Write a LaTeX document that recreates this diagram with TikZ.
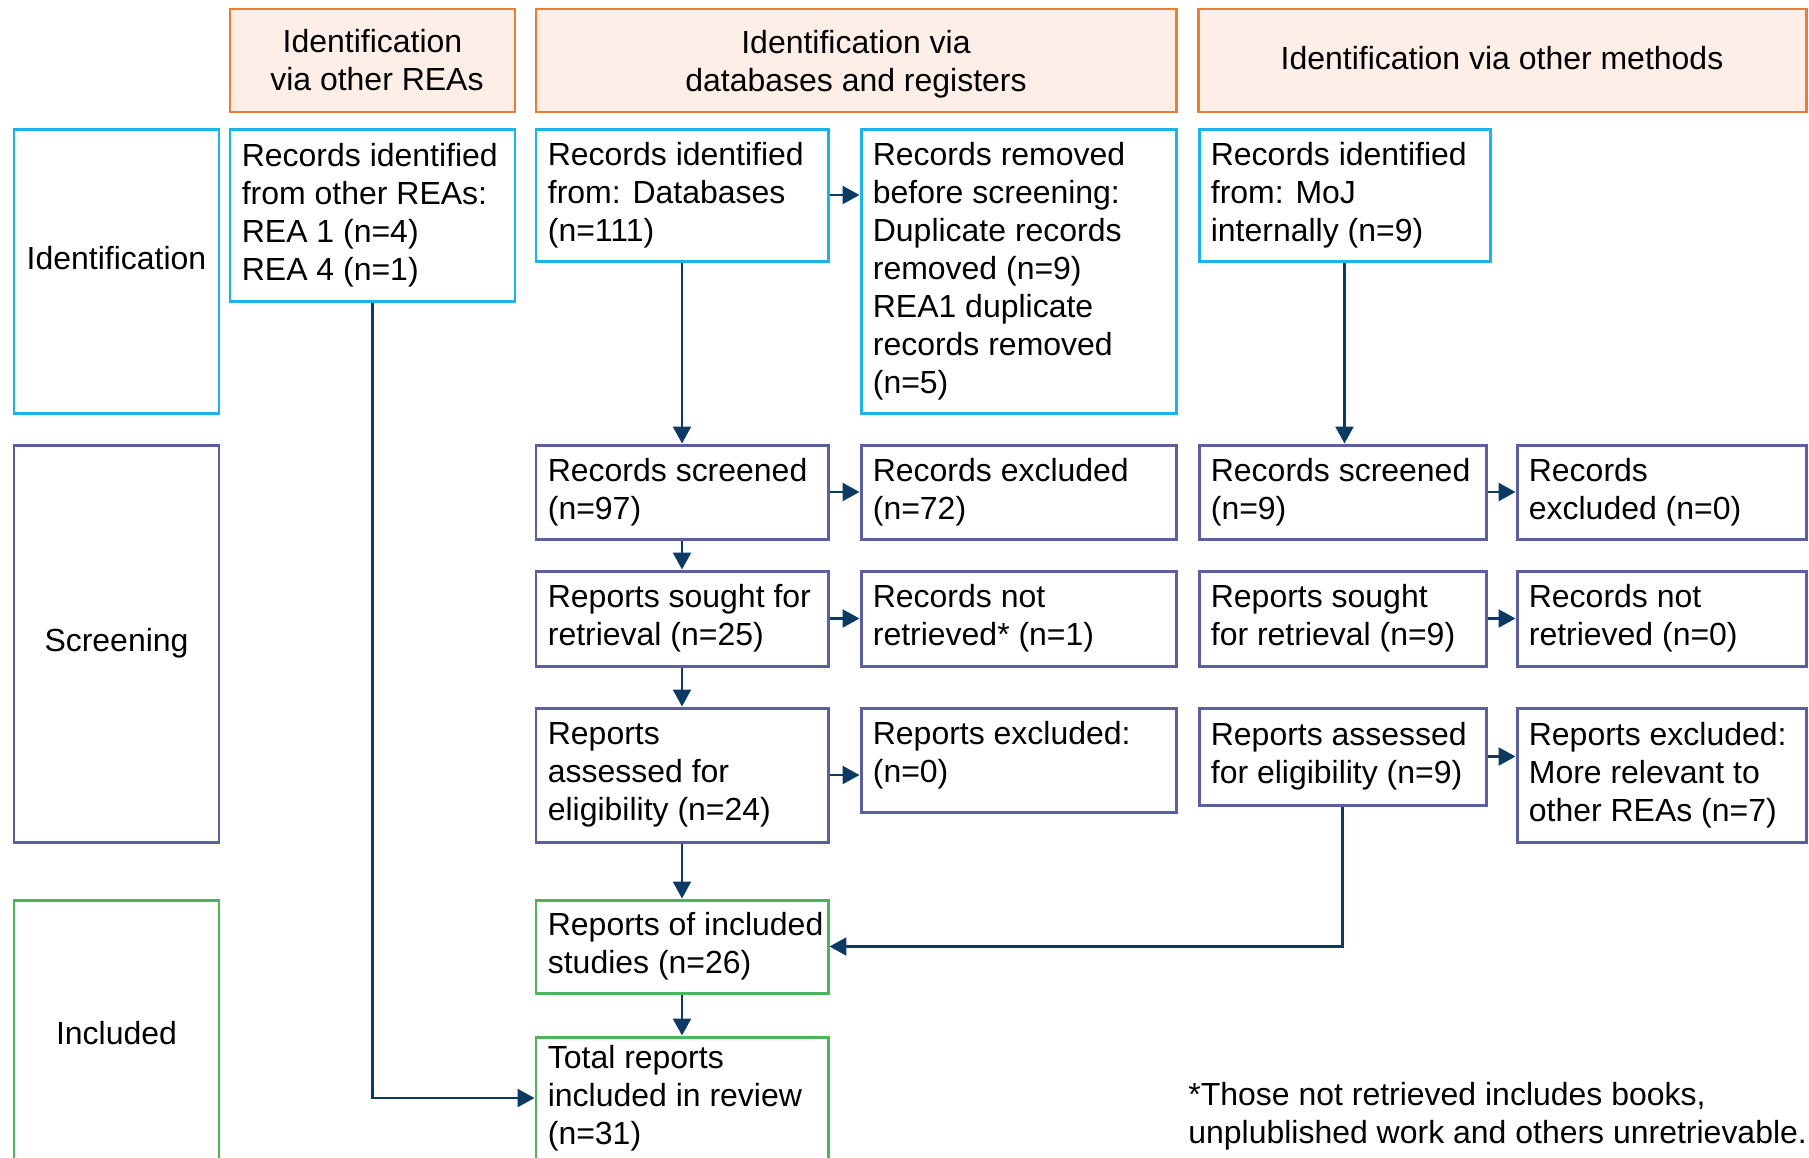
\documentclass[tikz,border=0pt]{standalone}
\usepackage{fontspec}
\setmainfont{Liberation Sans}
\usetikzlibrary{arrows.meta, fit}

\definecolor{hdrorange}{HTML}{ED7D31}
\definecolor{hdrfill}{HTML}{FDEFE7}
\definecolor{idblue}{HTML}{1AB4E8}
\definecolor{scrpurple}{HTML}{5B5E9F}
\definecolor{incgreen}{HTML}{4BB55A}
\definecolor{arrownavy}{HTML}{0B3A63}

\begin{document}
\begin{tikzpicture}[x=0.02cm, y=-0.02cm,
    every node/.style={font=\fontsize{18.2}{21.6}\selectfont},
    header/.style={draw=hdrorange, fill=hdrfill, line width=1.7pt, inner sep=0pt},
    flowbox/.style={draw=#1, line width=1.7pt, inner sep=0pt},
    midtext/.style={align=center, inner sep=0pt},
    boxtext/.style={anchor=west, align=left, inner sep=0pt, xshift=0.26cm},
    link/.style={draw=arrownavy, line width=1.4pt, -{Triangle[length=0.34cm, width=0.36cm]}}]
				\useasboundingbox (0,0) rectangle (1809,1157);

				% Column headers
				\node[header, fit={(230,9) (515,112)}] (hrea) {};
				\node[midtext] (hreatxt) at (hrea) {Identification\\ \ via other REAs};
				\node[header, fit={(536,9) (1176,112)}] (hdb) {};
				\node[midtext, yshift=-0.07cm] (hdbtxt) at (hdb) {Identification via\\databases and registers};
				\node[header, fit={(1198,9) (1806,112)}] (hother) {};
				\node[midtext, yshift=0.05cm] (hothertxt) at (hother) {Identification via other methods};

				% Stages on the left
				\node[flowbox=idblue, fit={(14,129) (219,413)}] (sid) {};
				\node[midtext, yshift=0.26cm] (sidtxt) at (sid) {Identification};
				\node[flowbox=scrpurple, fit={(14,445) (219,842)}] (sscr) {};
				\node[midtext] (sscrtxt) at (sscr) {Screening};
				\node[flowbox=incgreen, fit={(14,900) (219,1166)}] (sinc) {};
				\node[midtext] (sinctxt) at (sinc) {Included};

				% Identification row
				\node[flowbox=idblue, fit={(230,129) (515,301)}] (rea) {};
				\node[boxtext] (reatxt) at (rea.west) {Records identified\\from other REAs:\\REA 1 (n=4)\\REA 4 (n=1)};
				\node[flowbox=idblue, fit={(536,129) (828,261)}] (db) {};
				\node[boxtext] (dbtxt) at (db.west) {Records identified\\from: Databases\\(n=111)};
				\node[flowbox=idblue, fit={(861,129) (1176,413)}] (removed) {};
				\node[boxtext] (removedtxt) at (removed.west) {Records removed\\before screening:\\Duplicate records\\removed (n=9)\\REA1 duplicate\\records removed\\(n=5)};
				\node[flowbox=idblue, fit={(1199,129) (1490,261)}] (moj) {};
				\node[boxtext] (mojtxt) at (moj.west) {Records identified\\from: MoJ\\internally (n=9)};

				% Screening, databases
				\node[flowbox=scrpurple, fit={(536,445) (828,539)}] (scr1) {};
				\node[boxtext] (scr1txt) at (scr1.west) {Records screened\\(n=97)};
				\node[flowbox=scrpurple, fit={(861,445) (1176,539)}] (exc1) {};
				\node[boxtext] (exc1txt) at (exc1.west) {Records excluded\\(n=72)};
				\node[flowbox=scrpurple, fit={(536,571) (828,666)}] (sought1) {};
				\node[boxtext] (sought1txt) at (sought1.west) {Reports sought for\\retrieval (n=25)};
				\node[flowbox=scrpurple, fit={(861,571) (1176,666)}] (nr1) {};
				\node[boxtext] (nr1txt) at (nr1.west) {Records not\\retrieved* (n=1)};
				\node[flowbox=scrpurple, fit={(536,708) (828,842)}] (ass1) {};
				\node[boxtext] (ass1txt) at (ass1.west) {Reports\\assessed for\\eligibility (n=24)};
				\node[flowbox=scrpurple, fit={(861,708) (1176,812)}] (rex1) {};
				\node[boxtext, yshift=0.1cm] (rex1txt) at (rex1.west) {Reports excluded:\\(n=0)};

				% Screening, other methods
				\node[flowbox=scrpurple, fit={(1199,445) (1486,539)}] (scr2) {};
				\node[boxtext] (scr2txt) at (scr2.west) {Records screened\\(n=9)};
				\node[flowbox=scrpurple, fit={(1517,445) (1806,539)}] (exc2) {};
				\node[boxtext] (exc2txt) at (exc2.west) {Records\\excluded (n=0)};
				\node[flowbox=scrpurple, fit={(1199,571) (1486,666)}] (sought2) {};
				\node[boxtext] (sought2txt) at (sought2.west) {Reports sought\\for retrieval (n=9)};
				\node[flowbox=scrpurple, fit={(1517,571) (1806,666)}] (nr2) {};
				\node[boxtext] (nr2txt) at (nr2.west) {Records not\\retrieved (n=0)};
				\node[flowbox=scrpurple, fit={(1199,708) (1486,805)}] (ass2) {};
				\node[boxtext] (ass2txt) at (ass2.west) {Reports assessed\\for eligibility (n=9)};
				\node[flowbox=scrpurple, fit={(1517,708) (1806,842)}] (rex2) {};
				\node[boxtext] (rex2txt) at (rex2.west) {Reports excluded:\\More relevant to\\other REAs (n=7)};

				% Included
				\node[flowbox=incgreen, fit={(536,900) (828,993)}] (inc) {};
				\node[boxtext] (inctxt) at (inc.west) {Reports of included\\studies (n=26)};
				\node[flowbox=incgreen, fit={(536,1037) (828,1159)}] (total) {};
				\node[boxtext] (totaltxt) at (total.west) {Total reports\\included in review\\(n=31)};

				% Footnote
				\node[anchor=west, align=left, inner sep=0pt] (note) at (1188,1116) {*Those not retrieved includes books,\\unplublished work and others unretrievable.};

				% Connectors
				\draw[link] (db.south) -- (scr1.north);
				\draw[link] (db.east) -- (db.east -| removed.west);
				\draw[link] (scr1.east) -- (exc1.west);
				\draw[link] (scr1.south) -- (sought1.north);
				\draw[link] (sought1.east) -- (nr1.west);
				\draw[link] (sought1.south) -- (ass1.north);
				\draw[link] (ass1.east) -- (ass1.east -| rex1.west);
				\draw[link] (ass1.south) -- (inc.north);
				\draw[link] (inc.south) -- (total.north);
				\draw[link] (moj.south) -- (moj.south |- scr2.north);
				\draw[link] (scr2.east) -- (exc2.west);
				\draw[link] (sought2.east) -- (nr2.west);
				\draw[link] (ass2.east) -- (ass2.east -| rex2.west);
				\draw[link] (ass2.south) |- (inc.east);
				\draw[link] (rea.south) |- (total.west);
			\end{tikzpicture}
\end{document}
